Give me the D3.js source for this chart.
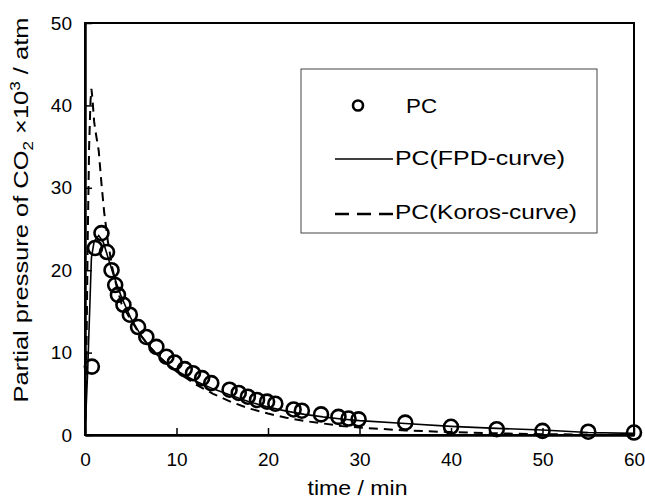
<!DOCTYPE html>
<html>
<head>
<meta charset="utf-8">
<script src="https://cdn.jsdelivr.net/npm/d3@7"></script>
<style>
  body { margin: 0; background: #fff; }
  svg { display: block; font-family: "Liberation Sans", Arial, sans-serif; }
</style>
</head>
<body>
<svg id="chart" width="645" height="502"></svg>
<script>
// measured PC points
const pcTime = [0.75, 1.1, 1.8, 2.4, 2.9, 3.3, 3.6, 4.2, 4.9, 5.8, 6.7, 7.8, 8.9, 9.8, 10.9, 11.8, 12.8, 13.8,
  15.8, 16.8, 17.8, 18.8, 19.9, 20.8, 22.8, 23.7, 25.8, 27.7, 28.8, 29.9, 35, 40, 45, 50, 55, 60];
const pcValue = [8.3, 22.7, 24.5, 22.2, 20.0, 18.2, 17.0, 15.8, 14.6, 13.1, 11.9, 10.7, 9.5, 8.8, 8.0, 7.5, 6.9, 6.3,
  5.5, 5.1, 4.65, 4.25, 4.05, 3.8, 3.1, 2.95, 2.5, 2.2, 2.0, 1.9, 1.5, 1.0, 0.7, 0.5, 0.4, 0.3];

// FPD model curve
const fpdTime = [0, 0.3, 0.7, 1.0, 1.5, 2, 2.5, 3, 3.5, 4, 5, 6, 7, 8, 9, 10, 12, 14, 16, 18, 20, 22, 24, 26, 28, 30,
  35, 40, 45, 50, 55, 60];
const fpdValue = [0, 8, 21.5, 23.5, 24.2, 23.4, 21.6, 19.8, 18.2, 16.7, 14.2, 12.3, 10.8, 9.6, 8.6, 7.8, 6.6, 5.6, 4.8,
  4.0, 3.4, 2.9, 2.5, 2.2, 1.95, 1.75, 1.4, 1.05, 0.8, 0.6, 0.3, 0.2];

// Koros model curve
const korosTime = [0, 0.15, 0.3, 0.45, 0.6, 0.7, 0.8, 1.0, 1.2, 1.5, 1.8, 2.1, 2.5, 3, 3.5, 4, 5, 6, 7, 8, 9, 10, 12,
  14, 16, 18, 20, 22, 24, 26, 28, 30, 35, 40, 45, 50, 55, 60];
const korosValue = [0, 9, 24, 35, 40.5, 42, 41, 38, 36.5, 34.5, 30.5, 27, 23.5, 20.2, 17.8, 15.9, 14.0, 12.2, 10.8, 9.6,
  8.6, 7.7, 6.2, 5.0, 4.0, 3.2, 2.6, 2.1, 1.7, 1.4, 1.1, 0.9, 0.55, 0.35, 0.2, 0.1, 0.05, 0];

const xTicks = [0, 10, 20, 30, 40, 50, 60];
const yTicks = [0, 10, 20, 30, 40, 50];
const legendLabels = ['PC', 'PC(FPD-curve)', 'PC(Koros-curve)'];

const svg = d3.select('#chart');
const x = d3.scaleLinear().domain([0, 60]).range([85, 634]);
const y = d3.scaleLinear().domain([0, 50]).range([435, 23]);

// frame
svg.append('rect')
  .attr('x', x(0)).attr('y', y(50))
  .attr('width', x(60) - x(0)).attr('height', y(0) - y(50))
  .attr('fill', 'none').attr('stroke', '#000').attr('stroke-width', 2);

let xAxis = d3.axisBottom(x).tickValues(xTicks).tickSizeInner(-7).tickSizeOuter(0).tickPadding(18);
let gx = svg.append('g').attr('transform', `translate(0,${y(0)})`).call(xAxis);
let yAxis = d3.axisLeft(y).tickValues(yTicks).tickSizeInner(-7).tickSizeOuter(0).tickPadding(13);
let gy = svg.append('g').attr('transform', `translate(${x(0)},0)`).call(yAxis);

[gx, gy].forEach(g => {
  g.select('.domain').attr('stroke-width', 2.5);
  g.selectAll('.tick line').attr('stroke-width', 1.5);
  g.selectAll('.tick text').attr('font-size', 19).attr('font-family', '"Liberation Sans", Arial, sans-serif').attr('fill', '#000');
});

// axis titles
svg.append('text')
  .attr('x', (x(0) + x(60)) / 2 - 2).attr('y', 495)
  .attr('text-anchor', 'middle').attr('font-size', 21)
  .attr('textLength', 100).attr('lengthAdjust', 'spacingAndGlyphs')
  .text('time / min');

let yl = svg.append('text')
  .attr('transform', 'translate(28,210) rotate(-90)')
  .attr('text-anchor', 'middle').attr('font-size', 21)
  .attr('textLength', 385).attr('lengthAdjust', 'spacingAndGlyphs');
yl.append('tspan').text('Partial pressure of CO');
yl.append('tspan').attr('font-size', 14).attr('dy', 5).text('2');
yl.append('tspan').attr('dy', -5).text(' \u00d710');
yl.append('tspan').attr('font-size', 14).attr('dy', -8).text('3');
yl.append('tspan').attr('dy', 8).text(' / atm');

// curves
let line = (xs, ys) => d3.line().x((d, i) => x(xs[i])).y((d, i) => y(ys[i]))(xs);

svg.append('path')
  .attr('d', line(fpdTime, fpdValue))
  .attr('fill', 'none').attr('stroke', '#000').attr('stroke-width', 1.6);

svg.append('path')
  .attr('d', line(korosTime, korosValue))
  .attr('fill', 'none').attr('stroke', '#000').attr('stroke-width', 2)
  .attr('stroke-dasharray', '9,6');

svg.append('g').selectAll('circle')
  .data(pcTime)
  .enter()
  .append('circle')
  .attr('cx', d => x(d))
  .attr('cy', (d, i) => y(pcValue[i]))
  .attr('r', 7)
  .attr('fill', 'none').attr('stroke', '#000').attr('stroke-width', 2.6);

// legend
let lg = svg.append('g');
lg.append('rect').attr('x', 301).attr('y', 69).attr('width', 296).attr('height', 164)
  .attr('fill', '#fff').attr('stroke', '#444').attr('stroke-width', 1);
lg.append('circle').attr('cx', 358).attr('cy', 105.5).attr('r', 5)
  .attr('fill', 'none').attr('stroke', '#000').attr('stroke-width', 2.6);
lg.append('line').attr('x1', 335).attr('x2', 393).attr('y1', 159).attr('y2', 159)
  .attr('stroke', '#000').attr('stroke-width', 1.6);
lg.append('line').attr('x1', 335).attr('x2', 393).attr('y1', 214).attr('y2', 214)
  .attr('stroke', '#000').attr('stroke-width', 2.6).attr('stroke-dasharray', '14,8');

let legendPos = [[406, 113, 31], [395, 165, 170], [395, 219, 182]];
legendLabels.forEach((t, i) => {
  lg.append('text')
    .attr('x', legendPos[i][0]).attr('y', legendPos[i][1])
    .attr('font-size', 21)
    .attr('textLength', legendPos[i][2]).attr('lengthAdjust', 'spacingAndGlyphs')
    .text(t);
});
</script>
</body>
</html>
